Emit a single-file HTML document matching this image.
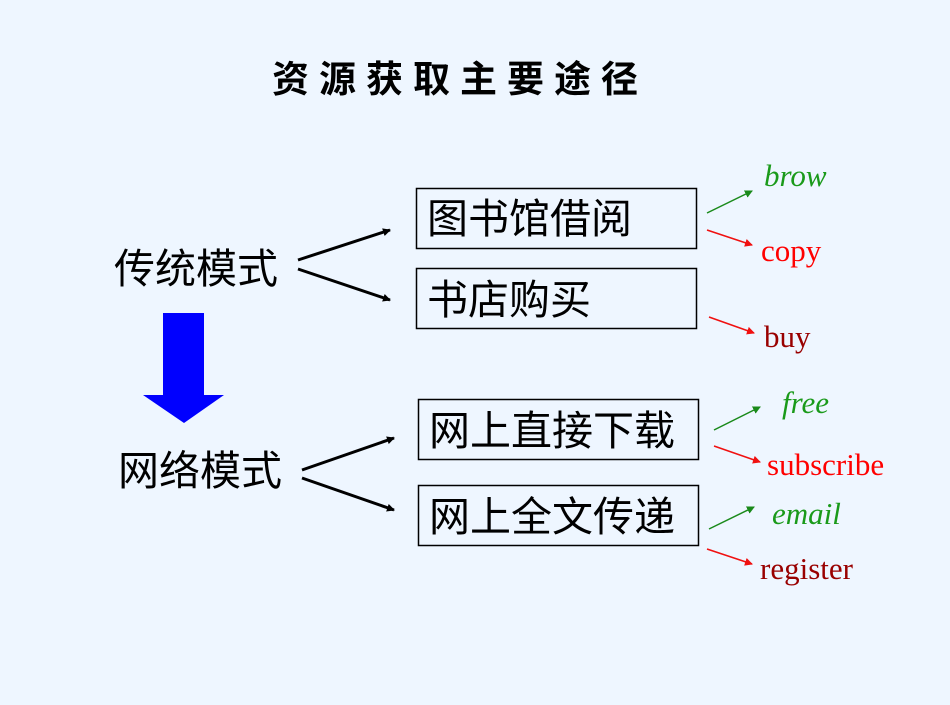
<!DOCTYPE html>
<html><head><meta charset="utf-8"><style>
body{margin:0;width:950px;height:700px;background:#eef6ff;overflow:hidden;font-family:"Liberation Serif","Noto Serif CJK SC",serif}
</style></head><body>
<svg width="950" height="700" viewBox="0 0 950 700" xmlns="http://www.w3.org/2000/svg">
<defs>
<marker id="k" markerWidth="8" markerHeight="8" refX="7" refY="4" orient="auto" markerUnits="userSpaceOnUse"><path d="M0,0 L8,4 L0,8z" fill="#000"/></marker>
<marker id="g" markerWidth="8" markerHeight="8" refX="7" refY="4" orient="auto" markerUnits="userSpaceOnUse"><path d="M0,0 L8,4 L0,8z" fill="#1a8a1a"/></marker>
<marker id="r" markerWidth="8" markerHeight="8" refX="7" refY="4" orient="auto" markerUnits="userSpaceOnUse"><path d="M0,0 L8,4 L0,8z" fill="#f01010"/></marker>
</defs>
<text x="272" y="92" font-family="'Noto Sans CJK SC',sans-serif" font-weight="bold" font-size="37" letter-spacing="10" fill="#000">资源获取主要途径</text>
<g font-family="'Noto Sans CJK SC',sans-serif" font-size="41" fill="#000">
<text x="114" y="283">传统模式</text>
<text x="118" y="485">网络模式</text>
</g>
<path d="M163,313 H204 V395 H224 L184,423 L143,395 H163 Z" fill="#0000ff"/>
<g fill="none" stroke="#000" stroke-width="1.5">
<rect x="416.5" y="188.5" width="280" height="60"/>
<rect x="416.5" y="268.5" width="280" height="60"/>
<rect x="418.5" y="399.5" width="280" height="60"/>
<rect x="418.5" y="485.5" width="280" height="60"/>
</g>
<g font-family="'Noto Sans CJK SC',sans-serif" font-size="41" fill="#000">
<text x="427" y="233">图书馆借阅</text>
<text x="427" y="314">书店购买</text>
<text x="429" y="445">网上直接下载</text>
<text x="429" y="531">网上全文传递</text>
</g>
<g stroke="#000" stroke-width="3">
<line x1="298" y1="260" x2="390" y2="230" marker-end="url(#k)"/>
<line x1="298" y1="269" x2="390" y2="300" marker-end="url(#k)"/>
<line x1="302" y1="470" x2="394" y2="438" marker-end="url(#k)"/>
<line x1="302" y1="478" x2="394" y2="510" marker-end="url(#k)"/>
</g>
<g stroke-width="1.5">
<line x1="707" y1="213" x2="752" y2="191" stroke="#1a8a1a" marker-end="url(#g)"/>
<line x1="707" y1="230" x2="752" y2="245" stroke="#f01010" marker-end="url(#r)"/>
<line x1="709" y1="317" x2="754" y2="333" stroke="#f01010" marker-end="url(#r)"/>
<line x1="714" y1="430" x2="760" y2="407" stroke="#1a8a1a" marker-end="url(#g)"/>
<line x1="714" y1="446" x2="760" y2="462" stroke="#f01010" marker-end="url(#r)"/>
<line x1="709" y1="529" x2="754" y2="507" stroke="#1a8a1a" marker-end="url(#g)"/>
<line x1="707" y1="549" x2="752" y2="564" stroke="#f01010" marker-end="url(#r)"/>
</g>
<g font-size="31">
<text x="764" y="186" font-style="italic" fill="#1a9a1a">brow</text>
<text x="761" y="261" fill="#ff0000">copy</text>
<text x="764" y="347" fill="#990000">buy</text>
<text x="782" y="413" font-style="italic" fill="#1a9a1a">free</text>
<text x="767" y="475" fill="#ff0000">subscribe</text>
<text x="772" y="524" font-style="italic" fill="#1a9a1a">email</text>
<text x="760" y="579" fill="#990000">register</text>
</g>
</svg>
</body></html>
